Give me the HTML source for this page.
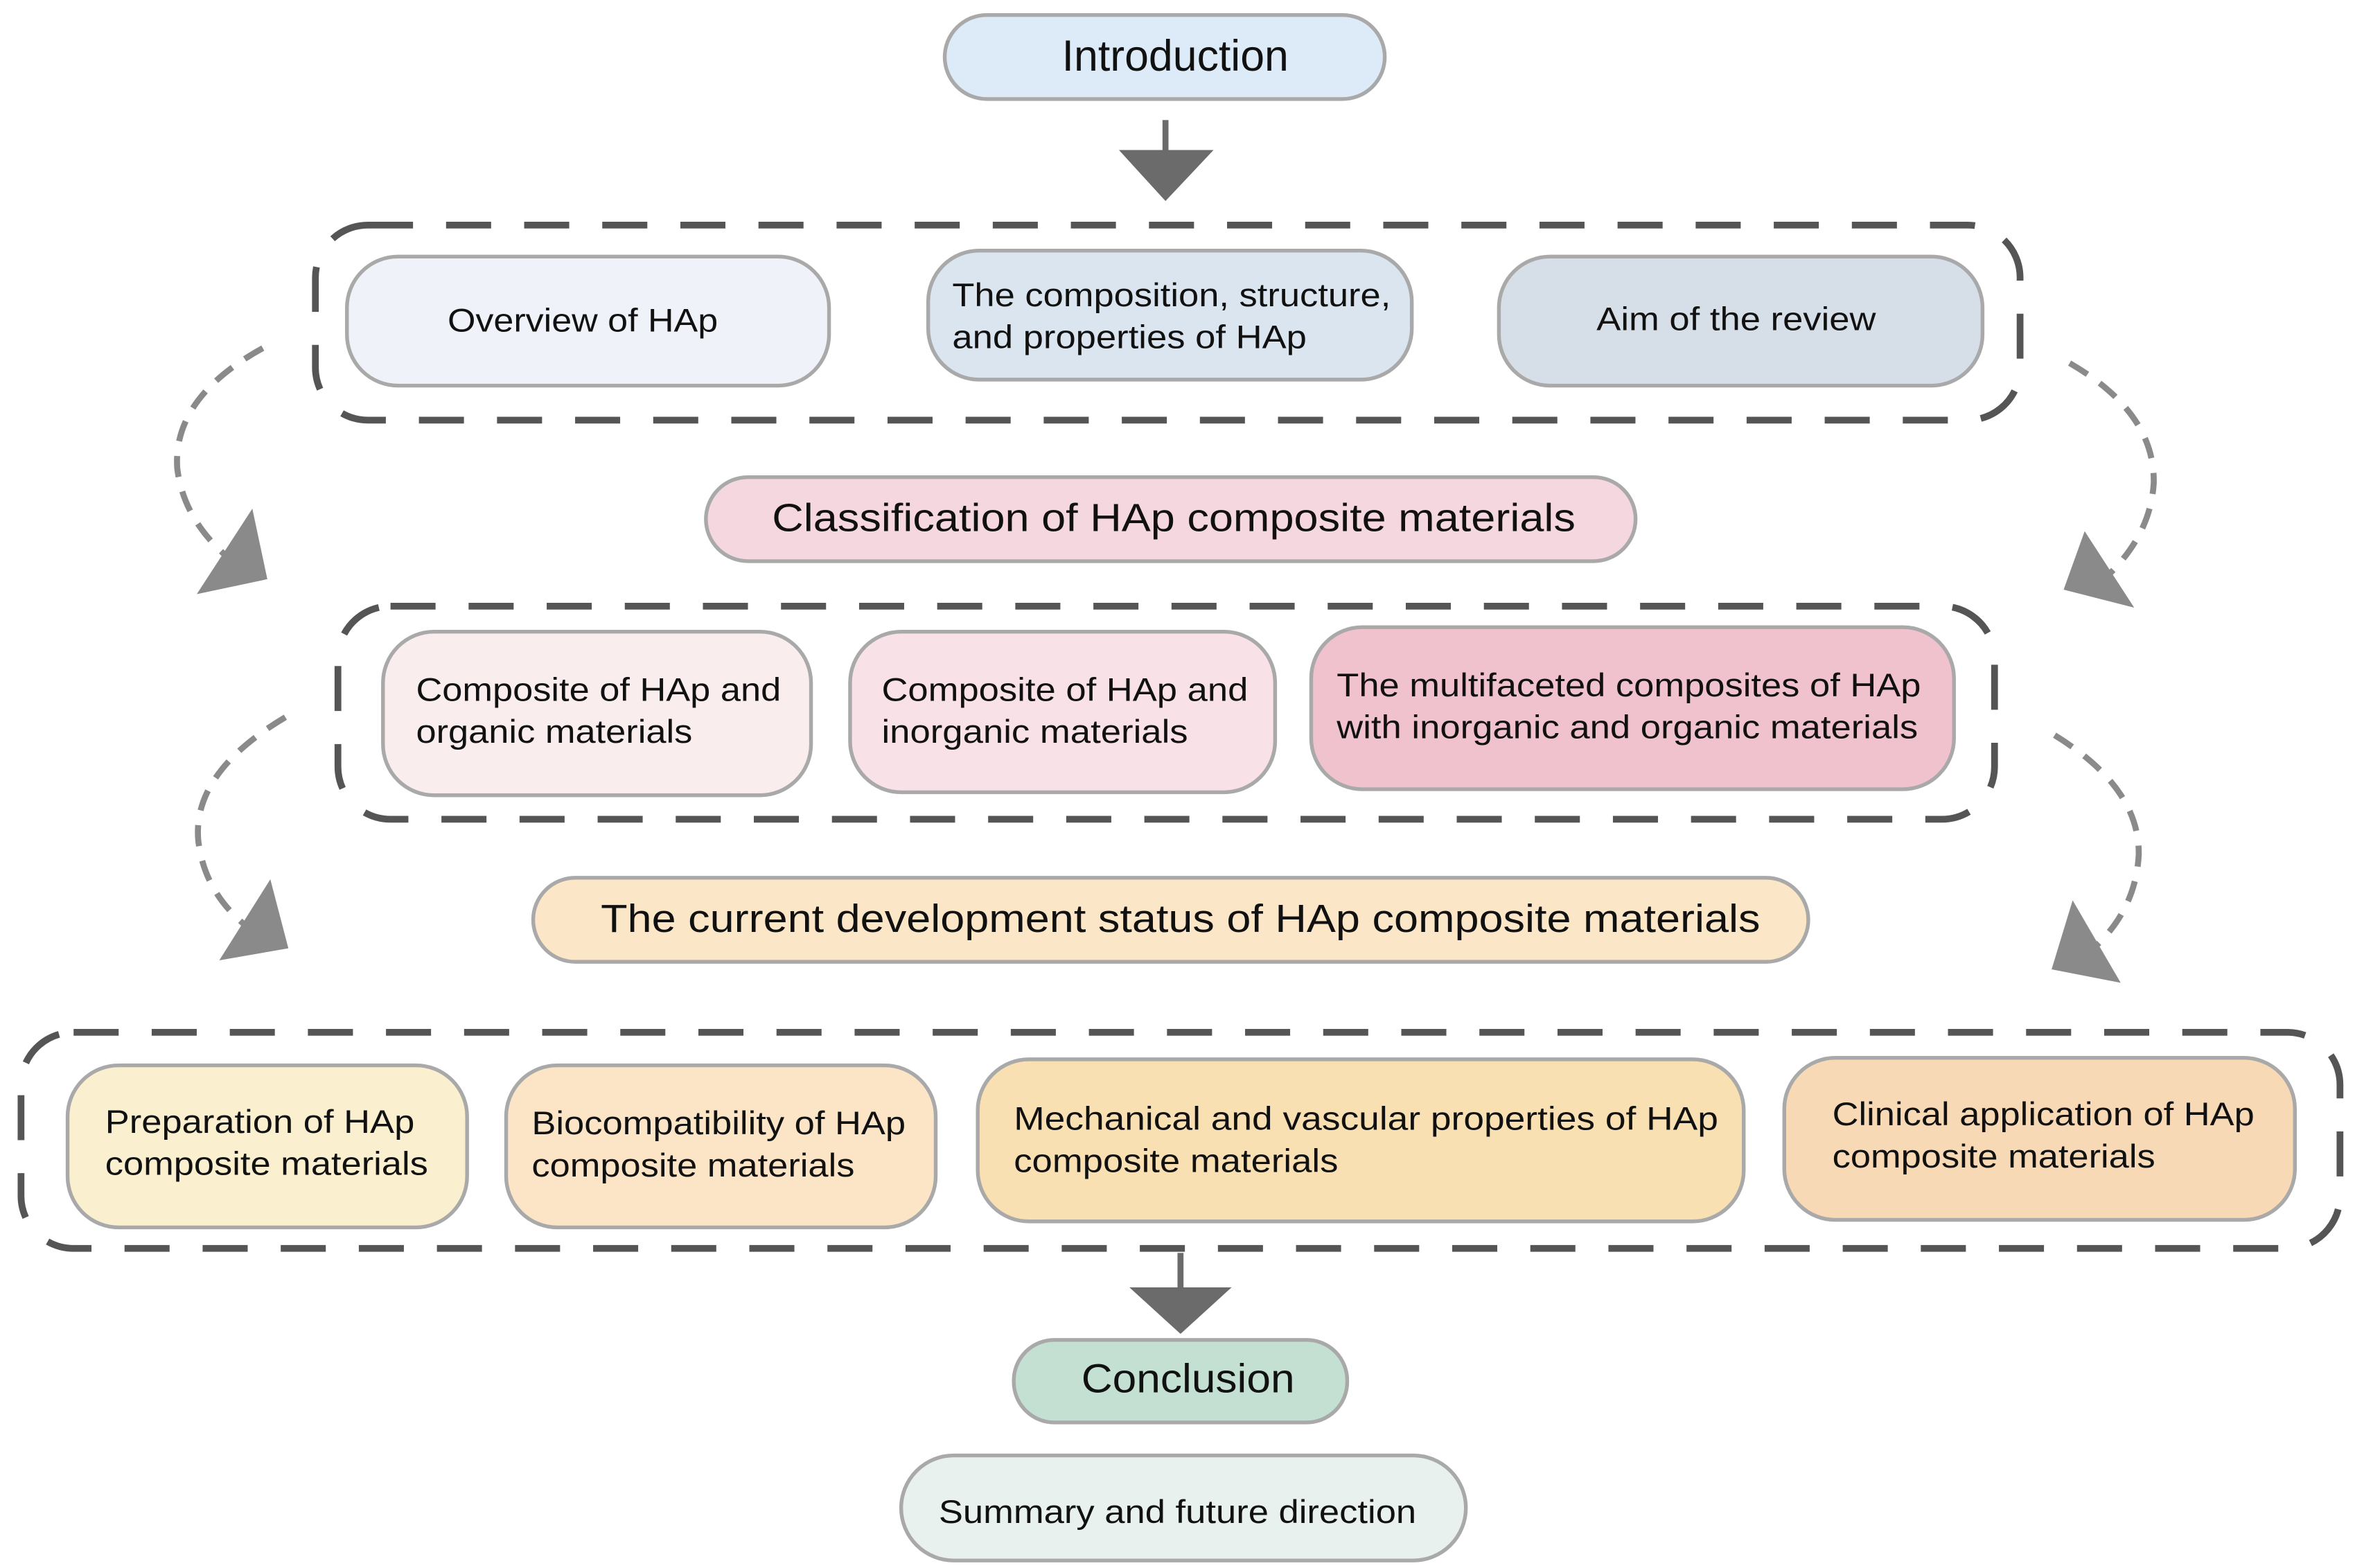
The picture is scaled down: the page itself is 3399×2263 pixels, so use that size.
<!DOCTYPE html>
<html><head><meta charset="utf-8"><style>
html,body{margin:0;padding:0;background:#fff;}
svg{display:block;}
text{font-family:"Liberation Sans",Arial,sans-serif;fill:#111;}
</style></head><body>
<svg width="3399" height="2263" viewBox="0 0 1568 1045" preserveAspectRatio="none" xmlns="http://www.w3.org/2000/svg">
<g stroke="#a9a9a9" stroke-width="2.5">
<rect x="629" y="10" width="293" height="56" rx="28" fill="#dcebf7"/>
<rect x="231" y="171" width="321" height="86" rx="34" fill="#eff3f9"/>
<rect x="618" y="167" width="322" height="86" rx="34" fill="#dae5ef"/>
<rect x="998" y="171" width="322" height="86" rx="34" fill="#d6dee8"/>
<rect x="470" y="318" width="619" height="56" rx="28" fill="#f5d7df"/>
<rect x="255" y="421" width="285" height="109" rx="34" fill="#f9edee"/>
<rect x="566" y="421" width="283" height="107" rx="34" fill="#f8e1e7"/>
<rect x="873" y="418" width="428" height="108" rx="34" fill="#f0c2ce"/>
<rect x="355" y="585" width="849" height="56" rx="28" fill="#fce6c8"/>
<rect x="45" y="710" width="266" height="108" rx="34" fill="#faf0cf"/>
<rect x="337" y="710" width="286" height="108" rx="34" fill="#fbe5c6"/>
<rect x="651" y="706" width="510" height="108" rx="34" fill="#f9e0b3"/>
<rect x="1188" y="705" width="340" height="108" rx="34" fill="#f8d9b5"/>
<rect x="675" y="893" width="222" height="55" rx="27" fill="#c3e0d3"/>
<rect x="600" y="970" width="376" height="70" rx="35" fill="#e9f1ee"/>
</g>
<g fill="none" stroke="#555" stroke-width="4.5" stroke-dasharray="30 22">
<rect x="210" y="150" width="1135" height="130" rx="35"/>
<rect x="225" y="404" width="1103" height="142" rx="35"/>
<rect x="14" y="688" width="1544" height="144" rx="35"/>
</g>
<g fill="#6b6b6b" stroke="#6b6b6b">
<line x1="776" y1="80" x2="776" y2="102" stroke-width="4"/>
<polygon points="745,100 808,100 776,134" stroke="none"/>
<line x1="786" y1="835" x2="786" y2="860" stroke-width="4"/>
<polygon points="752,858 820,858 786,889" stroke="none"/>
</g>
<g fill="none" stroke="#8a8a8a" stroke-width="4" stroke-dasharray="14 10">
<path d="M175,232 Q115,265 118,312 Q122,345 150,370"/>
<path d="M1378,242 Q1435,275 1434,322 Q1432,355 1405,382"/>
<path d="M190,478 Q128,515 132,560 Q136,595 165,618"/>
<path d="M1368,490 Q1425,525 1424,570 Q1422,605 1396,630"/>
</g>
<g fill="#8a8a8a">
<polygon points="168,339 178,386 131,396"/>
<polygon points="1388,354 1421,405 1374,393"/>
<polygon points="180,586 192,632 146,640"/>
<polygon points="1380,600 1412,655 1366,646"/>
</g>
<g lengthAdjust="spacingAndGlyphs">
<text x="707" y="47" font-size="29" textLength="151" lengthAdjust="spacingAndGlyphs">Introduction</text>
<text x="514" y="354" font-size="26" textLength="535" lengthAdjust="spacingAndGlyphs">Classification of HAp composite materials</text>
<text x="400" y="621" font-size="26" textLength="772" lengthAdjust="spacingAndGlyphs">The current development status of HAp composite materials</text>
<text x="720" y="928" font-size="27" textLength="142" lengthAdjust="spacingAndGlyphs">Conclusion</text>
</g>
<g font-size="22">
<text x="298" y="221" textLength="180" lengthAdjust="spacingAndGlyphs">Overview of HAp</text>
<text x="1063" y="220" textLength="186" lengthAdjust="spacingAndGlyphs">Aim of the review</text>
<text x="625" y="1015" textLength="318" lengthAdjust="spacingAndGlyphs">Summary and future direction</text>
<text x="634" y="204" textLength="292" lengthAdjust="spacingAndGlyphs">The composition, structure,</text>
<text x="634" y="232" textLength="236" lengthAdjust="spacingAndGlyphs">and properties of HAp</text>
<text x="277" y="467" textLength="243" lengthAdjust="spacingAndGlyphs">Composite of HAp and</text>
<text x="277" y="495" textLength="184" lengthAdjust="spacingAndGlyphs">organic materials</text>
<text x="587" y="467" textLength="244" lengthAdjust="spacingAndGlyphs">Composite of HAp and</text>
<text x="587" y="495" textLength="204" lengthAdjust="spacingAndGlyphs">inorganic materials</text>
<text x="890" y="464" textLength="389" lengthAdjust="spacingAndGlyphs">The multifaceted composites of HAp</text>
<text x="890" y="492" textLength="387" lengthAdjust="spacingAndGlyphs">with inorganic and organic materials</text>
<text x="70" y="755" textLength="206" lengthAdjust="spacingAndGlyphs">Preparation of HAp</text>
<text x="70" y="783" textLength="215" lengthAdjust="spacingAndGlyphs">composite materials</text>
<text x="354" y="756" textLength="249" lengthAdjust="spacingAndGlyphs">Biocompatibility of HAp</text>
<text x="354" y="784" textLength="215" lengthAdjust="spacingAndGlyphs">composite materials</text>
<text x="675" y="753" textLength="469" lengthAdjust="spacingAndGlyphs">Mechanical and vascular properties of  HAp</text>
<text x="675" y="781" textLength="216" lengthAdjust="spacingAndGlyphs">composite materials</text>
<text x="1220" y="750" textLength="281" lengthAdjust="spacingAndGlyphs">Clinical application of HAp</text>
<text x="1220" y="778" textLength="215" lengthAdjust="spacingAndGlyphs">composite materials</text>
</g>
</svg>
</body></html>
